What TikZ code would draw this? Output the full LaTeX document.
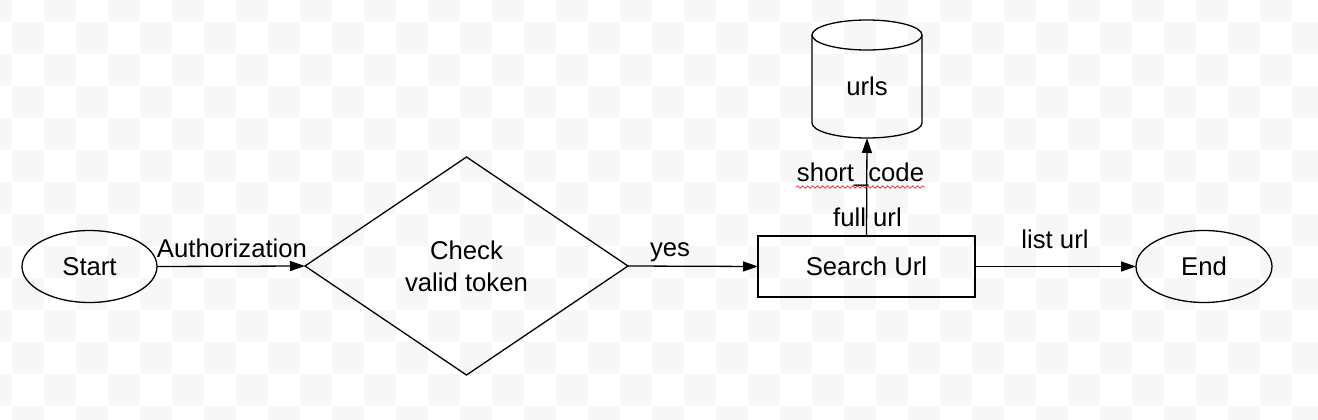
\documentclass[tikz,border=0pt]{standalone}
\usepackage{fontspec}
\setmainfont{Liberation Sans}
\usetikzlibrary{arrows.meta,shapes.geometric,decorations.pathmorphing}
\definecolor{checkgray}{RGB}{247,247,247}
\definecolor{squig}{RGB}{230,60,60}
\tikzset{
  shp/.style={draw=black,line width=1.3pt,inner sep=0pt,outer sep=0pt},
  txt/.style={font=\fontsize{25.7}{32}\selectfont},
  term/.style={shp,txt,ellipse,minimum width=135pt,minimum height=72pt},
  decide/.style={shp,txt,diamond,minimum width=323pt,minimum height=218pt,align=center},
  proc/.style={shp,txt,rectangle,minimum width=217pt,minimum height=61pt},
  lab/.style={txt,inner sep=0pt,anchor=base},
  arr/.style={line width=1.3pt,-{Triangle[length=15pt,width=10pt]}}
}
\begin{document}
\begin{tikzpicture}[x=1pt,y=-1pt]
\useasboundingbox (0,0) rectangle (1318,420);
\begin{scope}
\clip (0,0) rectangle (1318,420);
\foreach \j in {0,...,42}{
  \foreach \k in {0,...,14}{
    \pgfmathtruncatemacro\myparity{mod(\j+\k,2)}
    \ifnum\myparity=0
      \fill[checkgray] ({32*\j-20},{32*\k-10}) rectangle ++(32,32);
    \fi
  }
}
\end{scope}

\node[term] (start) at (89.5,266.5) {Start};
\node[decide] (dia) at (466.5,266) {Check\\valid token};
\node[proc] (search) at (866.5,266.5) {Search Url};
\node[term,minimum width=136pt] (end) at (1204,266.5) {End};
\node[inner sep=0pt,outer sep=0pt,minimum width=110pt,minimum height=118pt] (db) at (867,79) {};
\draw[shp] (867,35) ellipse[x radius=55pt,y radius=15pt];
\draw[shp] (812,35) -- (812,123) arc[start angle=180,end angle=360,x radius=55pt,y radius=15pt] -- (922,35);
\node[txt,inner sep=0pt] (urls) at (867,86.5) {urls};

\draw[arr] (start.east) -- (dia.west);
\draw[arr] (dia.east) -- (search.west);
\draw[arr] (search.east) -- (end.west);
\draw[arr] (search.north) -- (db.south);

\node[lab] (l1) at (232,257) {Authorization};
\node[lab] (l2) at (670,256) {yes};
\node[lab] (l3) at (1055,248) {list url};
\node[lab] (l4) at (860.5,181) {short\_code};
\node[lab] (l5) at (867.5,226) {full url};
\draw[squig,line width=0.8pt,decorate,decoration={snake,segment length=5pt,amplitude=1.2pt}] (796,187) -- (925,187);
\end{tikzpicture}
\end{document}
